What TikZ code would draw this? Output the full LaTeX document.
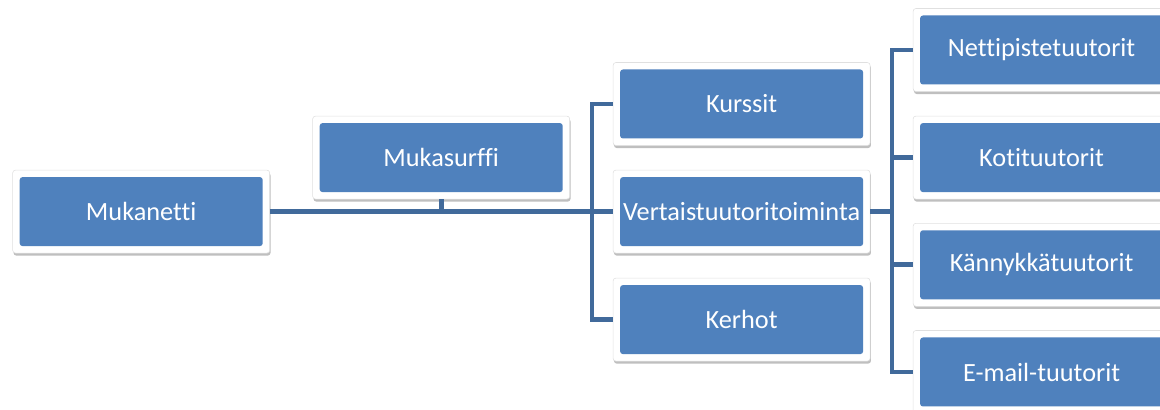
\documentclass[tikz,border=0pt]{standalone}
\usepackage{fontspec}
\setmainfont{Carlito}[Ligatures=NoCommon]
\usepackage{tikz}
\usetikzlibrary{calc,shadows}
\definecolor{boxblue}{RGB}{79,129,189}
\definecolor{linkblue}{RGB}{65,106,155}

\begin{document}
\begin{tikzpicture}[
  box/.style={rectangle, fill=white, draw=black!12, line width=0.4pt,
    rounded corners=2pt, minimum width=6.425cm, minimum height=2.075cm,
    inner sep=0pt, text=white, font=\fontsize{18.7}{22}\selectfont,
    drop shadow={shadow xshift=0.6pt, shadow yshift=-1.8pt, fill=black, opacity=0.25},
    path picture={\fill[boxblue] ([shift={(0.175cm,0.175cm)}]path picture bounding box.south west)
      rectangle ([shift={(-0.175cm,-0.175cm)}]path picture bounding box.north east);}},
  link/.style={draw=linkblue, line width=3.5pt}]
\useasboundingbox (0cm,0cm) rectangle (29cm,10.25cm);
\clip (0cm,0cm) rectangle (29cm,10.25cm);
\node[box] (mukanetti) at (3.53cm,4.96cm) {Mukanetti};
\node[box] (mukasurffi) at (11.03cm,6.31cm) {Mukasurffi};
\node[box] (kurssit) at (18.54cm,7.65cm) {Kurssit};
\node[box] (vertais) at (18.54cm,4.96cm) {Vertaistuutoritoiminta};
\node[box] (kerhot) at (18.54cm,2.26cm) {Kerhot};
\node[box] (netti) at (26.04cm,9.0cm) {Nettipistetuutorit};
\node[box] (koti) at (26.04cm,6.31cm) {Kotituutorit};
\node[box] (kannykka) at (26.04cm,3.63cm) {Kännykkätuutorit};
\node[box] (email) at (26.04cm,0.95cm) {E-mail-tuutorit};
\coordinate (bus1) at (14.8cm,0cm);
\coordinate (bus2) at (22.3cm,0cm);
% vasen haara
\draw[link] (mukanetti.east) -- (vertais.west);
\draw[link] (mukasurffi.south) -- (mukasurffi.south |- mukanetti.east);
\draw[link] (kurssit.west) -- (kurssit.west -| bus1) -- (kerhot.west -| bus1) -- (kerhot.west);
% oikea haara
\draw[link] (vertais.east) -- (vertais.east -| bus2);
\draw[link] (netti.west) -- (netti.west -| bus2) -- (email.west -| bus2) -- (email.west);
\draw[link] (koti.west) -- (koti.west -| bus2);
\draw[link] (kannykka.west) -- (kannykka.west -| bus2);
\end{tikzpicture}
\end{document}
